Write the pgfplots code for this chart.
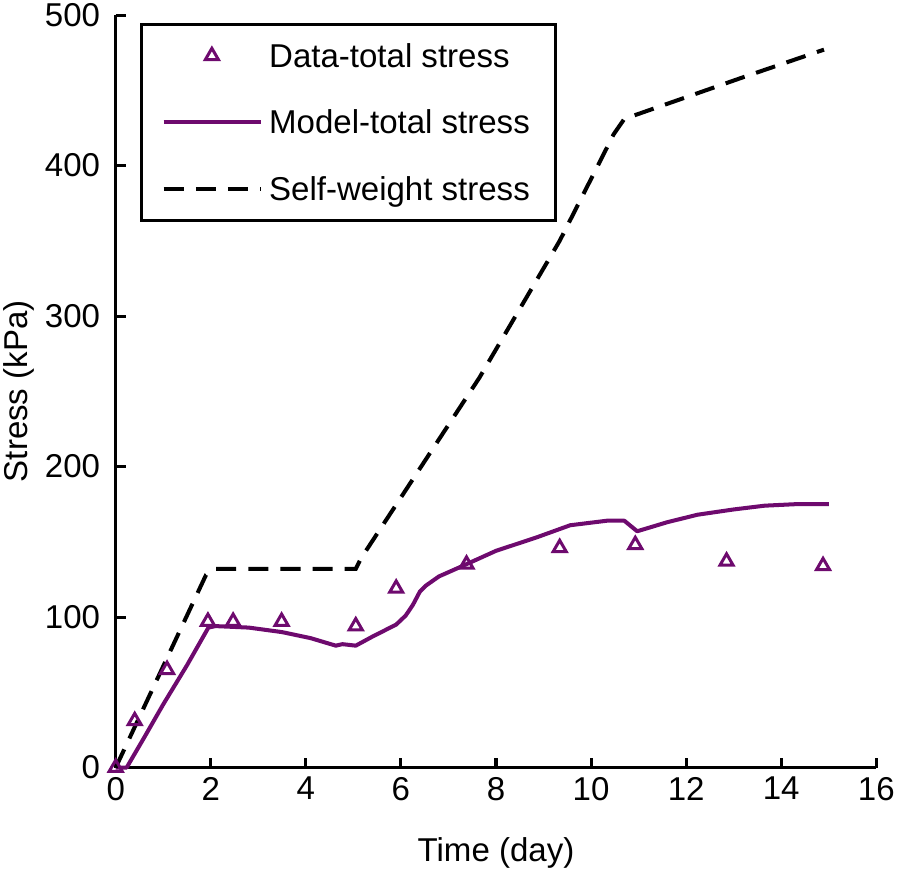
\documentclass[border=0pt]{standalone}
\usepackage{pgfplots}
\pgfplotsset{compat=1.18}
\usepackage{fontspec}
\setmainfont{Liberation Sans}
\definecolor{dpurple}{RGB}{110,10,110}
\begin{document}
\begin{tikzpicture}
\begin{axis}[
  scale only axis,
  width=757bp, height=749bp,
  xmin=0, xmax=16, ymin=0, ymax=500,
  xtick={0,2,...,16}, ytick={0,100,...,500},
  axis lines*=left,
  axis line style={line width=3bp},
  tick style={line width=3bp, black},
  major tick length=10bp,
  tick align=inside,
  font=\fontsize{33}{38}\selectfont,
  /pgf/number format/assume math mode=true,
  xticklabel style={yshift=-6bp},
  yticklabel style={xshift=-12bp},
  xlabel={Time (day)}, ylabel={Stress (kPa)},
  xlabel style={yshift=-30bp},
  ylabel style={yshift=4bp},
  clip=false,
  legend cell align=left,
  legend style={at={(0.032,0.99)}, anchor=north west, draw=black, line width=3bp,
    inner xsep=20bp, inner ysep=17bp, row sep=37bp,
    nodes={inner xsep=6bp},
    font=\fontsize{33}{38}\selectfont},
  legend image code/.code={\draw[mark repeat=2,mark phase=2,#1] plot coordinates {(0bp,0bp) (48bp,0bp) (97bp,0bp)};},
]
\addplot[only marks, mark=triangle, mark size=7.5bp, dpurple, line width=3bp] coordinates {
(0,0) (0.40,31) (1.08,65) (1.94,97) (2.47,97) (3.49,97) (5.05,94) (5.90,119) (7.38,135) (9.34,146) (10.93,148) (12.85,137) (14.88,134)
};
\addlegendentry{Data-total stress}
\addplot[dpurple, line width=4bp, line join=round] coordinates {
(0.0,0) (0.23,0) (0.6,20) (1.0,42) (1.5,68) (1.95,93) (2.1,94) (2.8,93) (3.5,90) (4.1,86) (4.63,81) (4.77,82) (5.05,81) (5.4,87) (5.9,95) (6.1,101) (6.25,108) (6.4,117) (6.53,121) (6.8,127) (7.3,134) (8.0,144) (8.86,153) (9.56,161) (10.33,164) (10.7,164) (10.97,157) (11.6,163) (12.24,168) (13.0,171.5) (13.65,174) (14.3,175) (15.0,175)
};
\addlegendentry{Model-total stress}
\addplot[black, line width=4bp, dash pattern=on 20bp off 12bp] coordinates {
(0,0) (1.9,128) (2.05,132) (5.05,132) (5.16,139) (7.65,259) (9.34,350) (10.48,421) (10.7,431) (13.23,459) (14.9,477)
};
\addlegendentry{Self-weight stress}
\end{axis}
\end{tikzpicture}
\end{document}
